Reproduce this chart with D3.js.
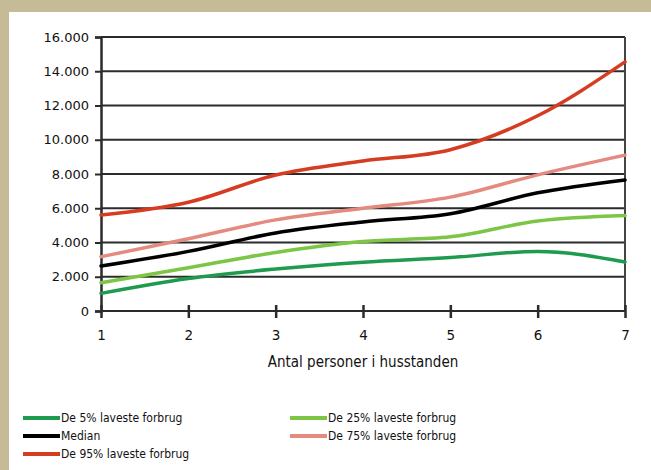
<!DOCTYPE html>
<html>
<head>
<meta charset="utf-8">
<script src="https://cdn.jsdelivr.net/npm/d3@7"></script>
<style>
  html, body { margin: 0; padding: 0; background: #c5bc97; }
  svg { display: block; }
</style>
</head>
<body>
<div id="chart"></div>
<script>
// husstandsstørrelse (x) og forbrug pr. percentil
const households = [1, 2, 3, 4, 5, 6, 7];
const p5  = [1030, 1900, 2450, 2850, 3120, 3480, 2860];
const p25 = [1650, 2530, 3420, 4060, 4330, 5250, 5570];
const median = [2630, 3480, 4560, 5200, 5680, 6900, 7650];
const p75 = [3170, 4220, 5320, 6000, 6650, 7950, 9100];
const p95 = [5600, 6350, 7940, 8760, 9420, 11400, 14550];
const yTicks = [0, 2000, 4000, 6000, 8000, 10000, 12000, 14000, 16000];

const series = [
    { name: 'De 5% laveste forbrug', values: p5, color: '#1e9b4f' },
    { name: 'De 25% laveste forbrug', values: p25, color: '#7cc545' },
    { name: 'Median', values: median, color: '#000000' },
    { name: 'De 75% laveste forbrug', values: p75, color: '#e58a7f' },
    { name: 'De 95% laveste forbrug', values: p95, color: '#d63c22' }
];

const width = 651, height = 470;
const margin = { left: 101, right: 26, top: 37, bottom: 159 };
const fmt = d => d === 0 ? '0' : d3.format(',')(d).replace(/,/g, '.');
const narrow = '"DejaVu Sans Condensed", "DejaVu Sans", sans-serif';

const svg = d3.select('#chart').append('svg')
    .attr('width', width)
    .attr('height', height);

// hvidt panel
svg.append('rect')
    .attr('x', 9).attr('y', 12)
    .attr('width', width - 9).attr('height', height - 12)
    .attr('fill', '#ffffff');

const x = d3.scaleLinear()
    .domain([1, 7])
    .range([margin.left, width - margin.right]);
const y = d3.scaleLinear()
    .domain([0, 16000])
    .range([height - margin.bottom, margin.top]);

// gitterlinjer
svg.append('g')
    .selectAll('line')
    .data(yTicks)
    .join('line')
    .attr('x1', x(1)).attr('x2', x(7))
    .attr('y1', d => y(d)).attr('y2', d => y(d))
    .attr('stroke', '#2b2b2b')
    .attr('stroke-width', 2);

// højre kant
svg.append('line')
    .attr('x1', x(7)).attr('x2', x(7))
    .attr('y1', y(16000)).attr('y2', y(0))
    .attr('stroke', '#444')
    .attr('stroke-width', 2);

// y-akse
const yAxis = svg.append('g')
    .attr('transform', `translate(${x(1)},0)`)
    .call(d3.axisLeft(y).tickValues(yTicks).tickFormat(fmt).tickSize(6).tickPadding(6));
yAxis.select('.domain').attr('stroke', '#2b2b2b').attr('stroke-width', 2.5);
yAxis.selectAll('.tick line').attr('stroke', '#2b2b2b').attr('stroke-width', 2);
yAxis.selectAll('text')
    .attr('fill', '#111')
    .style('font-family', '"DejaVu Sans"')
    .style('font-size', '13px');

// x-akse
const xAxis = svg.append('g')
    .attr('transform', `translate(0,${y(0)})`)
    .call(d3.axisBottom(x).tickValues(households).tickFormat(d3.format('d')).tickSize(7).tickPadding(12));
xAxis.select('.domain').remove();
xAxis.selectAll('.tick line')
    .attr('y1', -6)
    .attr('stroke', '#2b2b2b')
    .attr('stroke-width', 2.5);
xAxis.selectAll('text')
    .attr('fill', '#111')
    .style('font-family', '"DejaVu Sans"')
    .style('font-size', '13.5px');

// aksetitel
svg.append('text')
    .attr('x', (x(1) + x(7)) / 2)
    .attr('y', 367)
    .attr('text-anchor', 'middle')
    .attr('fill', '#111')
    .style('font-family', narrow)
    .style('font-size', '15px')
    .text('Antal personer i husstanden');

// linjer
const line = d3.line()
    .x((d, i) => x(households[i]))
    .y(d => y(d))
    .curve(d3.curveMonotoneX);

svg.append('g')
    .selectAll('path')
    .data(series)
    .join('path')
    .attr('d', d => line(d.values))
    .attr('fill', 'none')
    .attr('stroke', d => d.color)
    .attr('stroke-width', 3.5)
    .attr('stroke-linecap', 'round');

// legende
const legendPos = [
    { x: 23, y: 418 }, { x: 290, y: 418 },
    { x: 23, y: 436 }, { x: 290, y: 436 },
    { x: 23, y: 454 }
];
const legend = svg.append('g')
    .selectAll('g')
    .data(series)
    .join('g')
    .attr('transform', (d, i) => `translate(${legendPos[i].x},${legendPos[i].y})`);
legend.append('line')
    .attr('x1', 0).attr('x2', 37)
    .attr('stroke', d => d.color)
    .attr('stroke-width', 4);
legend.append('text')
    .attr('x', 38)
    .attr('dy', '0.35em')
    .attr('fill', '#111')
    .style('font-family', narrow)
    .style('font-size', '12px')
    .text(d => d.name);
</script>
</body>
</html>
